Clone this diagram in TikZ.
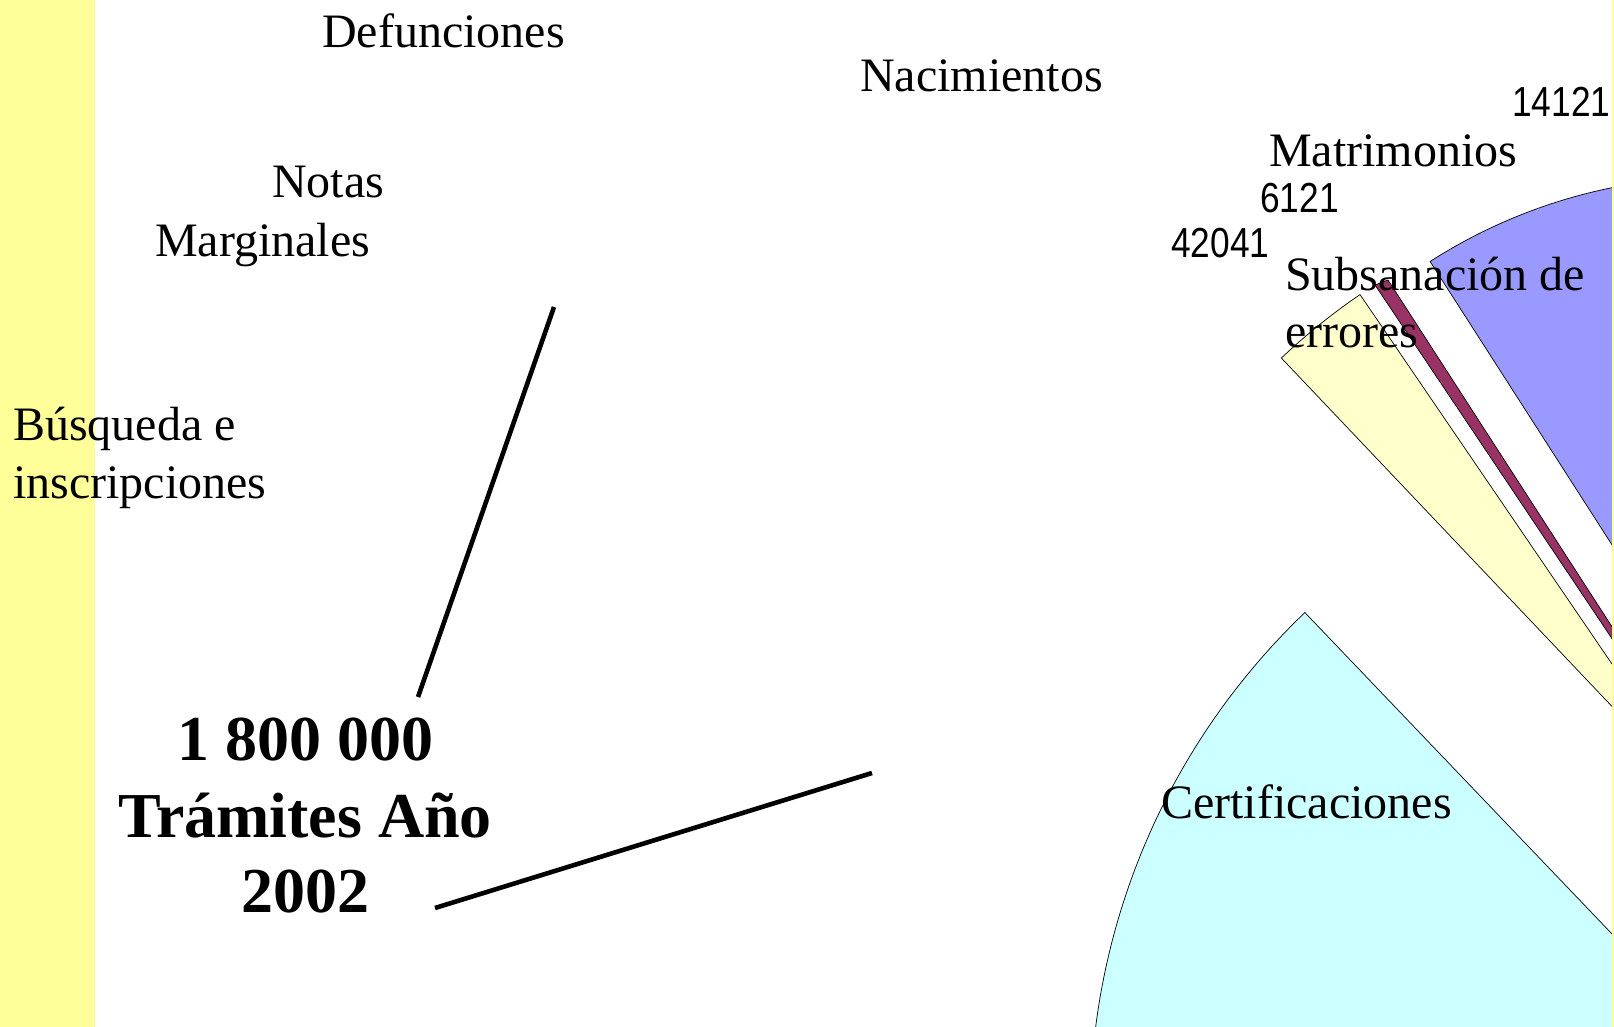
\documentclass[tikz,border=0pt]{standalone}
\usepackage{fontspec}
\setmainfont{Liberation Serif}
\newfontfamily\narrowsans[FakeStretch=0.84]{Liberation Sans}
\definecolor{stripyellow}{HTML}{FFFF99}
\definecolor{sliceblue}{HTML}{9999FF}
\definecolor{slicemaroon}{HTML}{993366}
\definecolor{sliceyellow}{HTML}{FFFFCC}
\definecolor{slicecyan}{HTML}{CCFFFF}
\begin{document}
\begin{tikzpicture}[x=1pt,y=-1pt,
  lbl/.style={inner sep=0pt, anchor=base west, font=\fontsize{48}{57.6}\selectfont},
  num/.style={inner sep=0pt, anchor=base west, font=\narrowsans\fontsize{42}{50}\selectfont},
  big/.style={inner sep=0pt, anchor=base, font=\fontsize{64}{77}\selectfont\bfseries},
  slice/.style={draw=black, line width=0.7pt},
  lead/.style={draw=black, line width=4.6pt}]
\useasboundingbox (0,0) rectangle (1614,1027);
\fill[white] (0,0) rectangle (1614,1027);
\fill[stripyellow] (0,0) rectangle (95,1027);
\begin{scope}
\clip (0,0) rectangle (1612,1027);
% Certificaciones slice
\filldraw[slice, fill=slicecyan] (1785,1115) -- plot[domain=-133.7:-190, samples=80] ({1785+695*cos(\x)},{1115+695*sin(\x)}) -- cycle;
% blue slice
\filldraw[slice, fill=sliceblue] (1718,710) -- plot[domain=-122.7:-75, samples=60] ({1718+533*cos(\x)},{710+533*sin(\x)}) -- cycle;
% light yellow slice
\filldraw[slice, fill=sliceyellow] (1715,815) -- plot[domain=-133.5:-124.3, samples=10] ({1715+630*cos(\x)},{815+630*sin(\x)}) -- cycle;
% maroon slice
\filldraw[slice, fill=slicemaroon] (1375,285) -- (1388,280) -- (1700,763) -- (1700,770) -- cycle;
\end{scope}
\fill[stripyellow] (1612,0) rectangle (1614,1027);
% labels
\node[lbl] (def) at (322,48) {Defunciones};
\node[lbl] (nac) at (860,92) {Nacimientos};
\node[lbl] (notas1) at (272,198) {Notas};
\node[lbl] (notas2) at (155,256) {Marginales};
\node[lbl] (busq1) at (13,440) {Búsqueda e};
\node[lbl] (busq2) at (13,498) {inscripciones};
\node[lbl] (mat) at (1269,167) {Matrimonios};
\node[lbl] (sub1) at (1285,290) {Subsanación de};
\node[lbl] (sub2) at (1285,347) {errores};
\node[lbl] (cert) at (1161,818) {Certificaciones};
\node[num] (n1) at (1512,117) {14121};
\node[num] (n2) at (1260,212) {6121};
\node[num] (n3) at (1171,257) {42041};
\node[big] (t1) at (305,760) {1 800 000};
\node[big] (t2) at (305,837) {Trámites Año};
\node[big] (t3) at (305,912) {2002};
% leader lines
\coordinate (l1a) at (418,697);
\coordinate (l1b) at (554,307);
\coordinate (l2a) at (435,908);
\coordinate (l2b) at (872,773);
\draw[lead] (l1a) -- (l1b);
\draw[lead] (l2a) -- (l2b);
\end{tikzpicture}
\end{document}
